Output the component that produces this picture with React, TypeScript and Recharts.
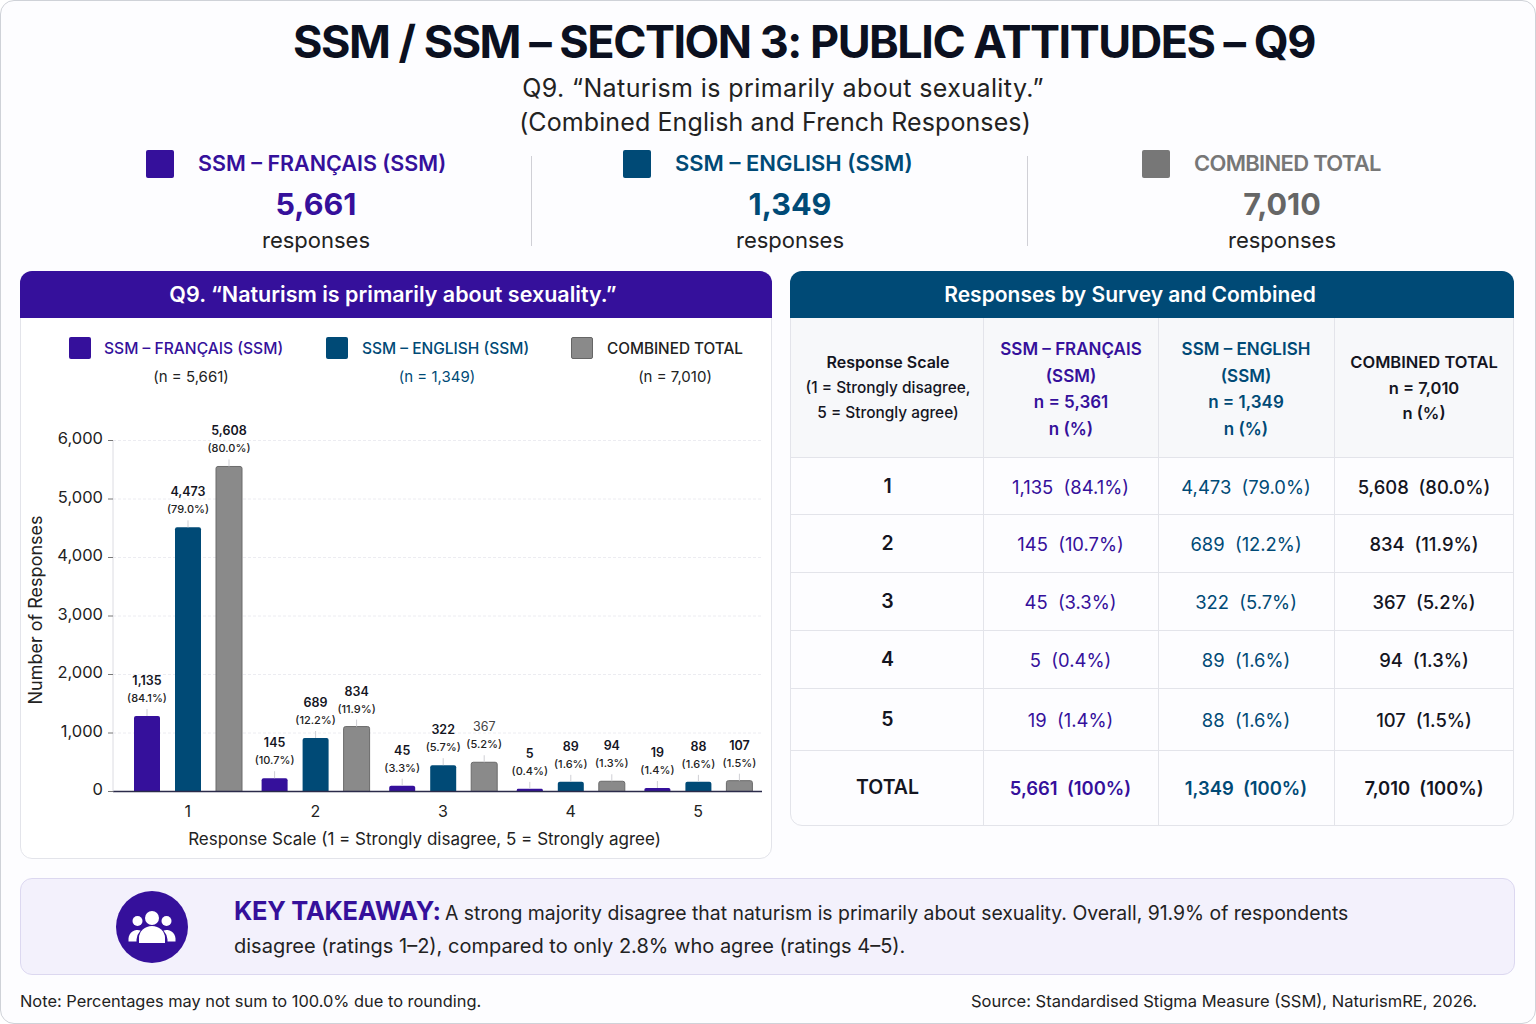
import type { ReactNode } from "react";
import { Bar, BarChart, CartesianGrid, Label, LabelList, XAxis, YAxis } from "recharts";

const FONT = "Inter, 'Noto Sans', sans-serif";
const PURPLE = "#35109b";
const TEAL = "#004a76";
const GREY = "#8a8a8a";
const INK = "#14151f";

const categories = ["1", "2", "3", "4", "5"];
// bar heights as drawn in the picture (they differ from the printed labels)
const francaisBars = [1290, 227, 100, 45, 60];
const englishBars = [4515, 915, 450, 165, 165];
const combinedBars = [5556, 1110, 500, 175, 185];
// printed labels
const francaisCounts = ["1,135", "145", "45", "5", "19"];
const francaisPcts = ["84.1%", "10.7%", "3.3%", "0.4%", "1.4%"];
const englishCounts = ["4,473", "689", "322", "89", "88"];
const englishPcts = ["79.0%", "12.2%", "5.7%", "1.6%", "1.6%"];
const combinedCounts = ["5,608", "834", "367", "94", "107"];
const combinedPcts = ["80.0%", "11.9%", "5.2%", "1.3%", "1.5%"];
const yTicks = [0, 1000, 2000, 3000, 4000, 5000, 6000];

const chartData = categories.map((c, i) => ({
  scale: c,
  francais: francaisBars[i],
  english: englishBars[i],
  combined: combinedBars[i],
}));

function T({
  x,
  y,
  size,
  weight = 400,
  color = INK,
  align = "center",
  style,
  children,
}: {
  x: number;
  y: number;
  size: number;
  weight?: number;
  color?: string;
  align?: "center" | "left";
  style?: React.CSSProperties;
  children: ReactNode;
}) {
  return (
    <div
      style={{
        position: "absolute",
        left: x,
        top: y,
        transform: align === "center" ? "translate(-50%,-50%)" : "translate(0,-50%)",
        fontSize: size,
        fontWeight: weight,
        color,
        whiteSpace: "pre",
        lineHeight: 1,
        ...style,
      }}
    >
      {children}
    </div>
  );
}

function Swatch({ x, y, size, color }: { x: number; y: number; size: number; color: string }) {
  return (
    <div
      style={{
        position: "absolute",
        left: x,
        top: y,
        width: size,
        height: size,
        background: color,
        borderRadius: 2,
        border: color === GREY ? "1px solid #666" : undefined,
        boxSizing: "border-box",
      }}
    />
  );
}

// two-line value label with the small leader tick above each bar
function barLabel(counts: string[], pcts: string[]) {
  return (props: any) => {
    const { x, y, width, index } = props;
    const cx = x + width / 2;
    const faint = counts[index] === "367";
    return (
      <g fontFamily={FONT} textAnchor="middle">
        <line x1={cx} x2={cx} y1={y} y2={y - 7} stroke="#cfcfd4" strokeWidth={1} />
        <text x={cx} y={y - 31} fontSize={12.5} fontWeight={faint ? 400 : 600} fill={faint ? "#444" : INK}>
          {counts[index]}
        </text>
        <text x={cx} y={y - 14} fontSize={11} fontWeight={500} fill="#222">
          ({pcts[index]})
        </text>
      </g>
    );
  };
}

function ResponsesChart() {
  return (
    <BarChart
      width={752}
      height={460}
      data={chartData}
      barSize={26}
      barGap={15}
      margin={{ top: 40.5, right: 10, bottom: 0, left: 0 }}
    >
      <CartesianGrid vertical={false} stroke="#ececf1" strokeDasharray="3 2" />
      <XAxis
        dataKey="scale"
        height={68.5}
        padding={{ left: 11, right: 0 }}
        tickLine={false}
        axisLine={{ stroke: "#2b2b4a", strokeWidth: 1.5 }}
        tick={{ fontSize: 16, fill: "#222", fontFamily: FONT }}
        tickMargin={8}
      >
        <Label value="Response Scale (1 = Strongly disagree, 5 = Strongly agree)" position="insideBottom" offset={15} dx={-13} style={{ fontSize: 17, fill: "#222", fontFamily: FONT }} />
      </XAxis>
      <YAxis
        width={93}
        domain={[0, 6000]}
        ticks={yTicks}
        tickFormatter={(v: number) => v.toLocaleString("en-US")}
        tick={{ fontSize: 16.5, fill: "#222", fontFamily: FONT, dy: -2 }}
        tickLine={{ stroke: "#777" }}
        tickSize={5}
        tickMargin={5}
        axisLine={{ stroke: "#dcdce2" }}
      >
        <Label value="Number of Responses" angle={-90} position="insideLeft" offset={16} dy={-6} style={{ fontSize: 18, fill: "#222", fontFamily: FONT, textAnchor: "middle" }} />
      </YAxis>
      <Bar dataKey="francais" fill={PURPLE} radius={[2, 2, 0, 0]} isAnimationActive={false}>
        <LabelList dataKey="francais" content={barLabel(francaisCounts, francaisPcts)} />
      </Bar>
      <Bar dataKey="english" fill={TEAL} radius={[2, 2, 0, 0]} isAnimationActive={false}>
        <LabelList dataKey="english" content={barLabel(englishCounts, englishPcts)} />
      </Bar>
      <Bar dataKey="combined" fill={GREY} stroke="#6a6a6a" radius={[2, 2, 0, 0]} isAnimationActive={false}>
        <LabelList dataKey="combined" content={barLabel(combinedCounts, combinedPcts)} />
      </Bar>
    </BarChart>
  );
}

const colEdges = [790, 983, 1158, 1334, 1514];
const rowEdges = [457, 514, 572, 630, 688, 750, 826];

function Table() {
  const rows = categories.map((c, i) => [
    c,
    `${francaisCounts[i]}  (${francaisPcts[i]})`,
    `${englishCounts[i]}  (${englishPcts[i]})`,
    `${combinedCounts[i]}  (${combinedPcts[i]})`,
  ]);
  rows.push(["TOTAL", "5,661  (100%)", "1,349  (100%)", "7,010  (100%)"]);
  const colors = [INK, PURPLE, TEAL, INK];
  const mid = (k: number) => (colEdges[k] + colEdges[k + 1]) / 2;
  return (
    <>
      <div style={{ position: "absolute", left: 790, top: 318, width: 724, height: 139, background: "#f7f8fa" }} />
      <div style={{ position: "absolute", left: 790, top: 271, width: 724, height: 555, borderRadius: 12, border: "1px solid #e3e4ea", boxSizing: "border-box" }} />
      <div style={{ position: "absolute", left: 790, top: 271, width: 724, height: 47, borderRadius: "12px 12px 0 0", background: TEAL }} />
      {colEdges.slice(1, 4).map((x) => (
        <div key={x} style={{ position: "absolute", left: x, top: 318, width: 1, height: 508, background: "#e3e4ea" }} />
      ))}
      {rowEdges.slice(0, 6).map((y) => (
        <div key={y} style={{ position: "absolute", left: 790, top: y, width: 724, height: 1, background: "#e3e4ea" }} />
      ))}
      <T x={1130} y={294} size={21} weight={600} color="#fff">Responses by Survey and Combined</T>

      <T x={888} y={362} size={16} weight={600}>Response Scale</T>
      <T x={888} y={388} size={15.4} weight={500}>(1 = Strongly disagree,</T>
      <T x={888} y={413} size={15.4} weight={500}>5 = Strongly agree)</T>

      {["SSM – FRANÇAIS", "(SSM)", "n = 5,361", "n (%)"].map((s, i) => (
        <T key={s} x={1071} y={349 + i * 26.7} size={17} weight={600} color={PURPLE}>{s}</T>
      ))}
      {["SSM – ENGLISH", "(SSM)", "n = 1,349", "n (%)"].map((s, i) => (
        <T key={s} x={1246} y={349 + i * 26.7} size={17} weight={600} color={TEAL}>{s}</T>
      ))}
      {["COMBINED TOTAL", "n = 7,010", "n (%)"].map((s, i) => (
        <T key={s} x={1424} y={362 + i * 25.5} size={16.5} weight={600}>{s}</T>
      ))}

      {rows.map((r, i) => {
        const total = i === rows.length - 1;
        const y = (rowEdges[i] + rowEdges[i + 1]) / 2 + (total ? 0 : 1);
        return r.map((cell, k) => (
          <T
            key={`${i}-${k}`}
            x={mid(k) + (k === 0 ? 1 : 0)}
            y={y}
            size={k === 0 ? 19.5 : 18.4}
            weight={total || k === 0 ? 600 : k === 3 ? 500 : 400}
            color={colors[k]}
          >
            {cell}
          </T>
        ));
      })}
    </>
  );
}

function PeopleIcon() {
  return (
    <svg style={{ position: "absolute", left: 116, top: 891 }} width={72} height={72} viewBox="0 0 72 72">
      <circle cx={36} cy={36} r={36} fill={PURPLE} />
      <g fill="#fff">
        <circle cx={36} cy={27} r={7} />
        <circle cx={21.5} cy={30} r={5} />
        <circle cx={50.5} cy={30} r={5} />
        <path d="M23 52 v-5 a13 12 0 0 1 26 0 v5 z" />
        <path d="M12.5 50.5 v-3 a9 9 0 0 1 12 -8 a16 16 0 0 0 -4 9 v2 z" />
        <path d="M59.5 50.5 v-3 a9 9 0 0 0 -12 -8 a16 16 0 0 1 4 9 v2 z" />
      </g>
    </svg>
  );
}

export default function App() {
  return (
    <div
      style={{
        position: "absolute",
        left: 0,
        top: 0,
        width: 1536,
        height: 1024,
        overflow: "hidden",
        fontFamily: FONT,
        background: "#fdfdff",
        border: "1px solid #cfd2d8",
        borderRadius: 14,
        boxSizing: "border-box",
      }}
    >
      <div style={{ position: "absolute", left: -1, top: -1, width: 1536, height: 1024 }}>
        <T x={804} y={41} size={45} weight={700} color="#0b1020" style={{ letterSpacing: -1.5 }}>SSM / SSM – SECTION 3: PUBLIC ATTITUDES – Q9</T>
        <T x={783} y={88} size={25} color="#222" style={{ letterSpacing: 0.4 }}>Q9. “Naturism is primarily about sexuality.”</T>
        <T x={775} y={122} size={25} color="#222" style={{ letterSpacing: 0.1 }}>(Combined English and French Responses)</T>

        <Swatch x={146} y={150} size={28} color={PURPLE} />
        <T x={198} y={164} size={21.5} weight={600} color={PURPLE} align="left">SSM – FRANÇAIS (SSM)</T>
        <T x={316} y={204} size={30.5} weight={700} color={PURPLE}>5,661</T>
        <T x={316} y={240} size={22} color="#222">responses</T>

        <Swatch x={623} y={150} size={28} color={TEAL} />
        <T x={675} y={163} size={22} weight={600} color={TEAL} align="left">SSM – ENGLISH (SSM)</T>
        <T x={790} y={204} size={30.5} weight={700} color={TEAL}>1,349</T>
        <T x={790} y={240} size={22} color="#222">responses</T>

        <Swatch x={1142} y={150} size={28} color="#777" />
        <T x={1194} y={163} size={22} weight={600} color="#777" align="left" style={{ letterSpacing: -0.7 }}>COMBINED TOTAL</T>
        <T x={1282} y={204} size={30.5} weight={700} color="#666">7,010</T>
        <T x={1282} y={240} size={22} color="#222">responses</T>

        <div style={{ position: "absolute", left: 531, top: 156, width: 1, height: 90, background: "#d0d0d6" }} />
        <div style={{ position: "absolute", left: 1027, top: 156, width: 1, height: 90, background: "#d0d0d6" }} />

        <div style={{ position: "absolute", left: 20, top: 271, width: 752, height: 588, borderRadius: 12, background: "#fff", border: "1px solid #e3e4ea", boxSizing: "border-box" }} />
        <div style={{ position: "absolute", left: 20, top: 271, width: 752, height: 47, borderRadius: "12px 12px 0 0", background: PURPLE }} />
        <T x={393} y={295} size={21.5} weight={600} color="#fff">Q9. “Naturism is primarily about sexuality.”</T>

        <Swatch x={69} y={337} size={22} color={PURPLE} />
        <T x={104} y={349} size={15.6} weight={500} color={PURPLE} align="left">SSM – FRANÇAIS (SSM)</T>
        <T x={191} y={376} size={15} color="#222">(n = 5,661)</T>
        <Swatch x={326} y={337} size={22} color={TEAL} />
        <T x={362} y={349} size={15.5} weight={500} color={TEAL} align="left">SSM – ENGLISH (SSM)</T>
        <T x={437} y={376} size={15} color={TEAL}>(n = 1,349)</T>
        <Swatch x={571} y={337} size={22} color={GREY} />
        <T x={607} y={349} size={15.3} weight={500} color="#222" align="left">COMBINED TOTAL</T>
        <T x={675} y={376} size={15} color="#222">(n = 7,010)</T>

        <div style={{ position: "absolute", left: 20, top: 400 }}>
          <ResponsesChart />
        </div>

        <Table />

        <div style={{ position: "absolute", left: 20, top: 878, width: 1495, height: 97, borderRadius: 12, background: "#f3f1fc", border: "1px solid #dcd8f0", boxSizing: "border-box" }} />
        <PeopleIcon />
        <T x={234} y={911} size={25.5} weight={700} color={PURPLE} align="left" style={{ letterSpacing: -0.3 }}>KEY TAKEAWAY:</T>
        <T x={445} y={914} size={19.4} color="#222" align="left">A strong majority disagree that naturism is primarily about sexuality. Overall, 91.9% of respondents</T>
        <T x={234} y={946} size={20} color="#222" align="left">disagree (ratings 1–2), compared to only 2.8% who agree (ratings 4–5).</T>

        <T x={20} y={1001} size={16.4} color="#222" align="left">Note: Percentages may not sum to 100.0% due to rounding.</T>
        <T x={971} y={1001} size={16.5} color="#222" align="left">Source: Standardised Stigma Measure (SSM), NaturismRE, 2026.</T>
      </div>
    </div>
  );
}
